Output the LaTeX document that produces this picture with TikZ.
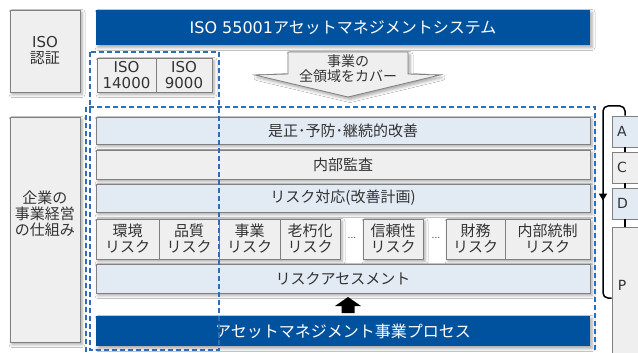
\documentclass[tikz,border=0pt]{standalone}
\usepackage{fontspec}
\setmainfont{Noto Sans CJK JP}
\newfontfamily\latin{DejaVu Sans}
\usetikzlibrary{shadows.blur,decorations.markings,arrows.meta}

\definecolor{amblue}{RGB}{0,82,158}
\definecolor{lblue}{RGB}{226,234,244}
\definecolor{lgray}{RGB}{239,239,239}
\definecolor{bgray}{RGB}{128,128,128}
\definecolor{dblue}{RGB}{46,110,182}
\definecolor{txt}{RGB}{51,51,51}

\tikzset{
 shd/.style={blur shadow={shadow xshift=2pt, shadow yshift=-2.5pt, shadow blur radius=3pt, shadow opacity=35}},
 gbox/.style={draw=bgray, line width=0.8pt, fill=lgray, text=txt, inner sep=0pt, align=center, font=\fontsize{15}{16}\selectfont},
 bbox/.style={gbox, fill=lblue},
 bar/.style={shd, fill=amblue, text=white, inner sep=0pt, font=\fontsize{16}{18}\selectfont},
 rowtxt/.style={text=txt, align=center, font=\fontsize{15}{16}\selectfont},
 dashline/.style={draw=dblue, line width=1.4pt, dash pattern=on 5pt off 3pt},
 pdca/.style={gbox, minimum width=33pt, text width=23pt, align=left, inner xsep=5pt, font=\latin\fontsize{14}{15}\selectfont},
 tickline/.style={draw=black, line width=2pt},
 loopline/.style={draw=black, line width=1.5pt, rounded corners=5pt,
   postaction={decorate}, decoration={markings, mark=at position 0.54 with {\arrow{Triangle[width=8pt,length=7pt]}}}},
}

\begin{document}
\begin{tikzpicture}[x=1pt,y=-1pt]
\fill[white] (0,0) rectangle (638,353);
\useasboundingbox (0,0) rectangle (638,353);

% left column
\node[gbox, shd, minimum width=70pt, minimum height=82pt] (iso) at (45,51) {{\latin ISO}\\認証};
\node[gbox, shd, minimum width=70pt, minimum height=225pt] (bizbox) at (45,229.5) {};
\node[rowtxt] (biztxt) at (45,214) {企業の\\事業経営\\の仕組み};

% title bar
\node[bar, minimum width=494pt, minimum height=35pt] (title) at (343,27.5) {{\latin ISO 55001}アセットマネジメントシステム};

% ISO standards
\path[shd] (97,58) rectangle (212,92);
\node[gbox, minimum width=59pt, minimum height=34pt, font=\latin\fontsize{15}{16}\selectfont] (iso14) at (126.5,75) {ISO\\14000};
\node[gbox, minimum width=56pt, minimum height=34pt, font=\latin\fontsize{15}{16}\selectfont] (iso9) at (184,75) {ISO\\9000};

% cover arrow
\draw[shd, draw=bgray, fill=lgray, line width=0.8pt] (288,52) -- (408,52) -- (408,74) -- (440,75) -- (348,97) -- (255,75) -- (288,74) -- cycle;
\node[text=txt, align=center, font=\fontsize{14}{15}\selectfont] (cover) at (348,69) {事業の\\全領域をカバー};

% rows
\node[bbox, shd, minimum width=494pt, minimum height=27pt] (kaizen) at (343,130.5) {是正･予防･継続的改善};
\node[gbox, shd, minimum width=494pt, minimum height=29pt] (audit) at (343,164.5) {内部監査};
\node[bbox, shd, minimum width=494pt, minimum height=28pt] (resp) at (343,198) {リスク対応(改善計画)};

% risk boxes
\path[shd] (96,219) rectangle (340,259);
\path[shd] (446,219) rectangle (590,259);
\node[gbox, minimum width=63pt, minimum height=40pt] (r1) at (127.5,239) {環境\\リスク};
\node[gbox, minimum width=60pt, minimum height=40pt] (r2) at (189,239) {品質\\リスク};
\node[gbox, minimum width=61pt, minimum height=40pt] (r3) at (249.5,239) {事業\\リスク};
\node[gbox, minimum width=60pt, minimum height=40pt] (r4) at (310,239) {老朽化\\リスク};
\node[gbox, shd, minimum width=60pt, minimum height=40pt] (r5) at (393,239) {信頼性\\リスク};
\node[gbox, minimum width=59pt, minimum height=40pt] (r6) at (475.5,239) {財務\\リスク};
\node[gbox, minimum width=85pt, minimum height=40pt] (r7) at (547.5,239) {内部統制\\リスク};
\node[text=txt, font=\latin\fontsize{9}{10}\selectfont] (dots1) at (352,238) {...};
\node[text=txt, font=\latin\fontsize{9}{10}\selectfont] (dots2) at (436,238) {...};

\node[bbox, shd, minimum width=494pt, minimum height=29pt] (assess) at (343,278.5) {リスクアセスメント};

% up block arrow
\fill[black] (348,297) -- (361,306) -- (354.5,306) -- (354.5,313) -- (341.5,313) -- (341.5,306) -- (335,306) -- cycle;

% bottom bar
\node[bar, minimum width=494pt, minimum height=30pt] (process) at (343,331) {アセットマネジメント事業プロセス};

% dashed frames
\draw[dashline] (90,52) rectangle (219,350);
\draw[dashline] (86,107) rectangle (595,362);

% PDCA column
\node[pdca, fill=lblue, minimum height=31pt] (A) at (628.5,131.5) {A};
\node[pdca, minimum height=31pt] (C) at (628.5,167.5) {C};
\node[pdca, fill=lblue, minimum height=31pt] (D) at (628.5,203.5) {D};
\node[pdca, minimum height=138pt] (P) at (628.5,296) {};
\node[text=txt, font=\latin\fontsize{14}{15}\selectfont] (Ptxt) at (622,285) {P};

\coordinate (tx) at (625,0);
\coordinate (lpy) at (0,298);
\draw[tickline] (A.south -| tx) -- (C.north -| tx);
\draw[tickline] (C.south -| tx) -- (D.north -| tx);
\draw[tickline] (D.south -| tx) -- (P.north -| tx);
\draw[loopline] (A.north -| tx) -- (625,106) -- (603,106) -- (603,298) -- (P.west |- lpy);
\end{tikzpicture}
\end{document}
